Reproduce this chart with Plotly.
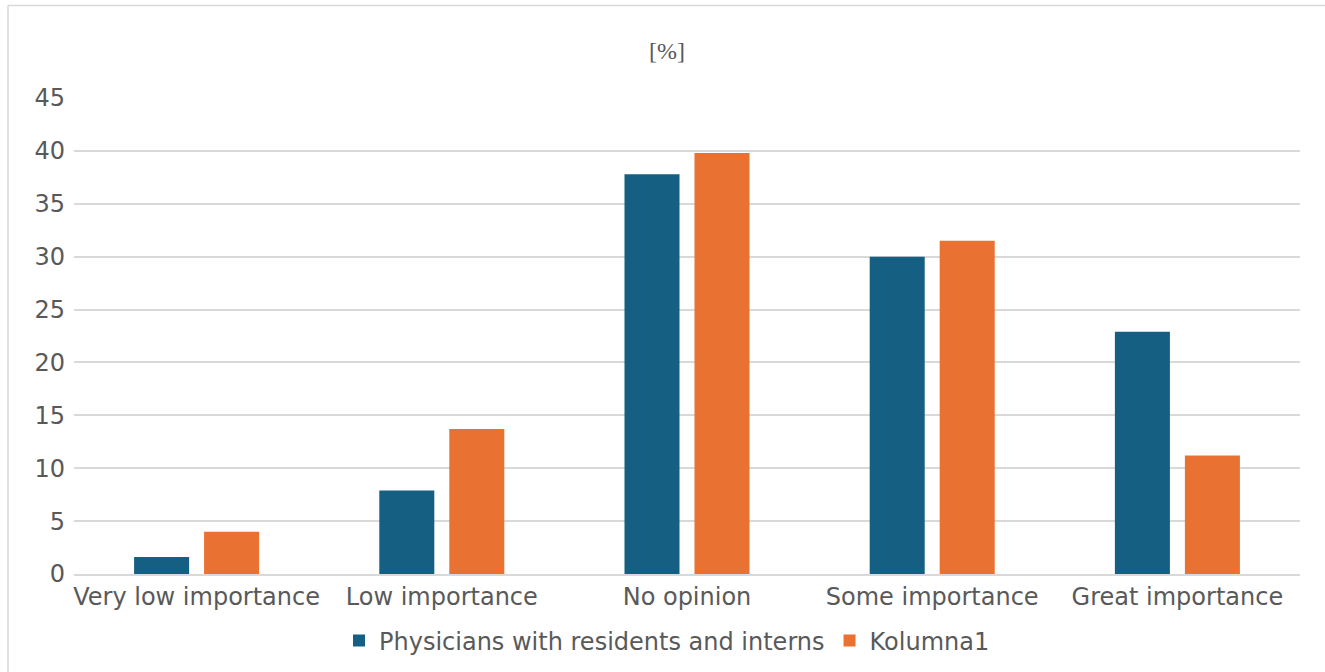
import plotly.graph_objects as go

categories = ["Very low importance", "Low importance", "No opinion", "Some importance", "Great importance"]
physicians = [1.6, 7.9, 37.8, 30.0, 22.9]
kolumna1 = [4.0, 13.7, 39.8, 31.5, 11.2]
series_names = ["Physicians with residents and interns", "Kolumna1"]
y_ticks = [0, 5, 10, 15, 20, 25, 30, 35, 40, 45]

BLUE = "#156082"
ORANGE = "#E97132"
TEXT = "#595959"
GRID = "#D9D9D9"

W, H = 1325, 672
ML, MR, MT, MB = 74, 25, 98, 98
PW = W - ML - MR
PH = H - MT - MB

def px_x(x):
    return (x - ML) / PW

def px_y(y):
    return (H - MB - y) / PH

fig = go.Figure()
fig.add_trace(go.Bar(x=categories, y=physicians, name=series_names[0], marker_color=BLUE, marker_line_width=0))
fig.add_trace(go.Bar(x=categories, y=kolumna1, name=series_names[1], marker_color=ORANGE, marker_line_width=0))

fig.update_layout(
    width=W, height=H,
    margin=dict(l=ML, r=MR, t=MT, b=MB, autoexpand=False),
    paper_bgcolor="white", plot_bgcolor="white",
    barmode="group", bargap=0.429, bargroupgap=0.214,
    font=dict(family="DejaVu Sans", size=24, color=TEXT),
    showlegend=True,
    legend=dict(orientation="h", x=px_x(667), xanchor="center", y=px_y(641), yanchor="middle",
                font=dict(size=24, color=TEXT), itemwidth=30, traceorder="normal"),
    annotations=[dict(text="[%]", x=px_x(667), y=px_y(51), xref="paper", yref="paper",
                      xanchor="center", yanchor="middle",
                      showarrow=False, font=dict(family="Liberation Serif", size=24, color=TEXT))],
    shapes=[
        dict(type="line", xref="paper", yref="paper", x0=px_x(8), x1=px_x(8), y0=px_y(5.5), y1=px_y(700),
             line=dict(color=GRID, width=1.5)),
        dict(type="line", xref="paper", yref="paper", x0=px_x(8), x1=px_x(1340), y0=px_y(5.5), y1=px_y(5.5),
             line=dict(color=GRID, width=1.5)),
    ],
)
fig.update_xaxes(showline=True, linecolor=GRID, linewidth=1.5, ticks="", showgrid=False,
                 tickfont=dict(size=24, color=TEXT), automargin=False)
fig.update_yaxes(range=[0, 45], tickvals=y_ticks, showgrid=True, gridcolor=GRID, gridwidth=1.5,
                 showline=False, zeroline=False, ticks="", ticklabelstandoff=8,
                 tickfont=dict(size=24, color=TEXT), automargin=False)

fig.write_html("out.html")
